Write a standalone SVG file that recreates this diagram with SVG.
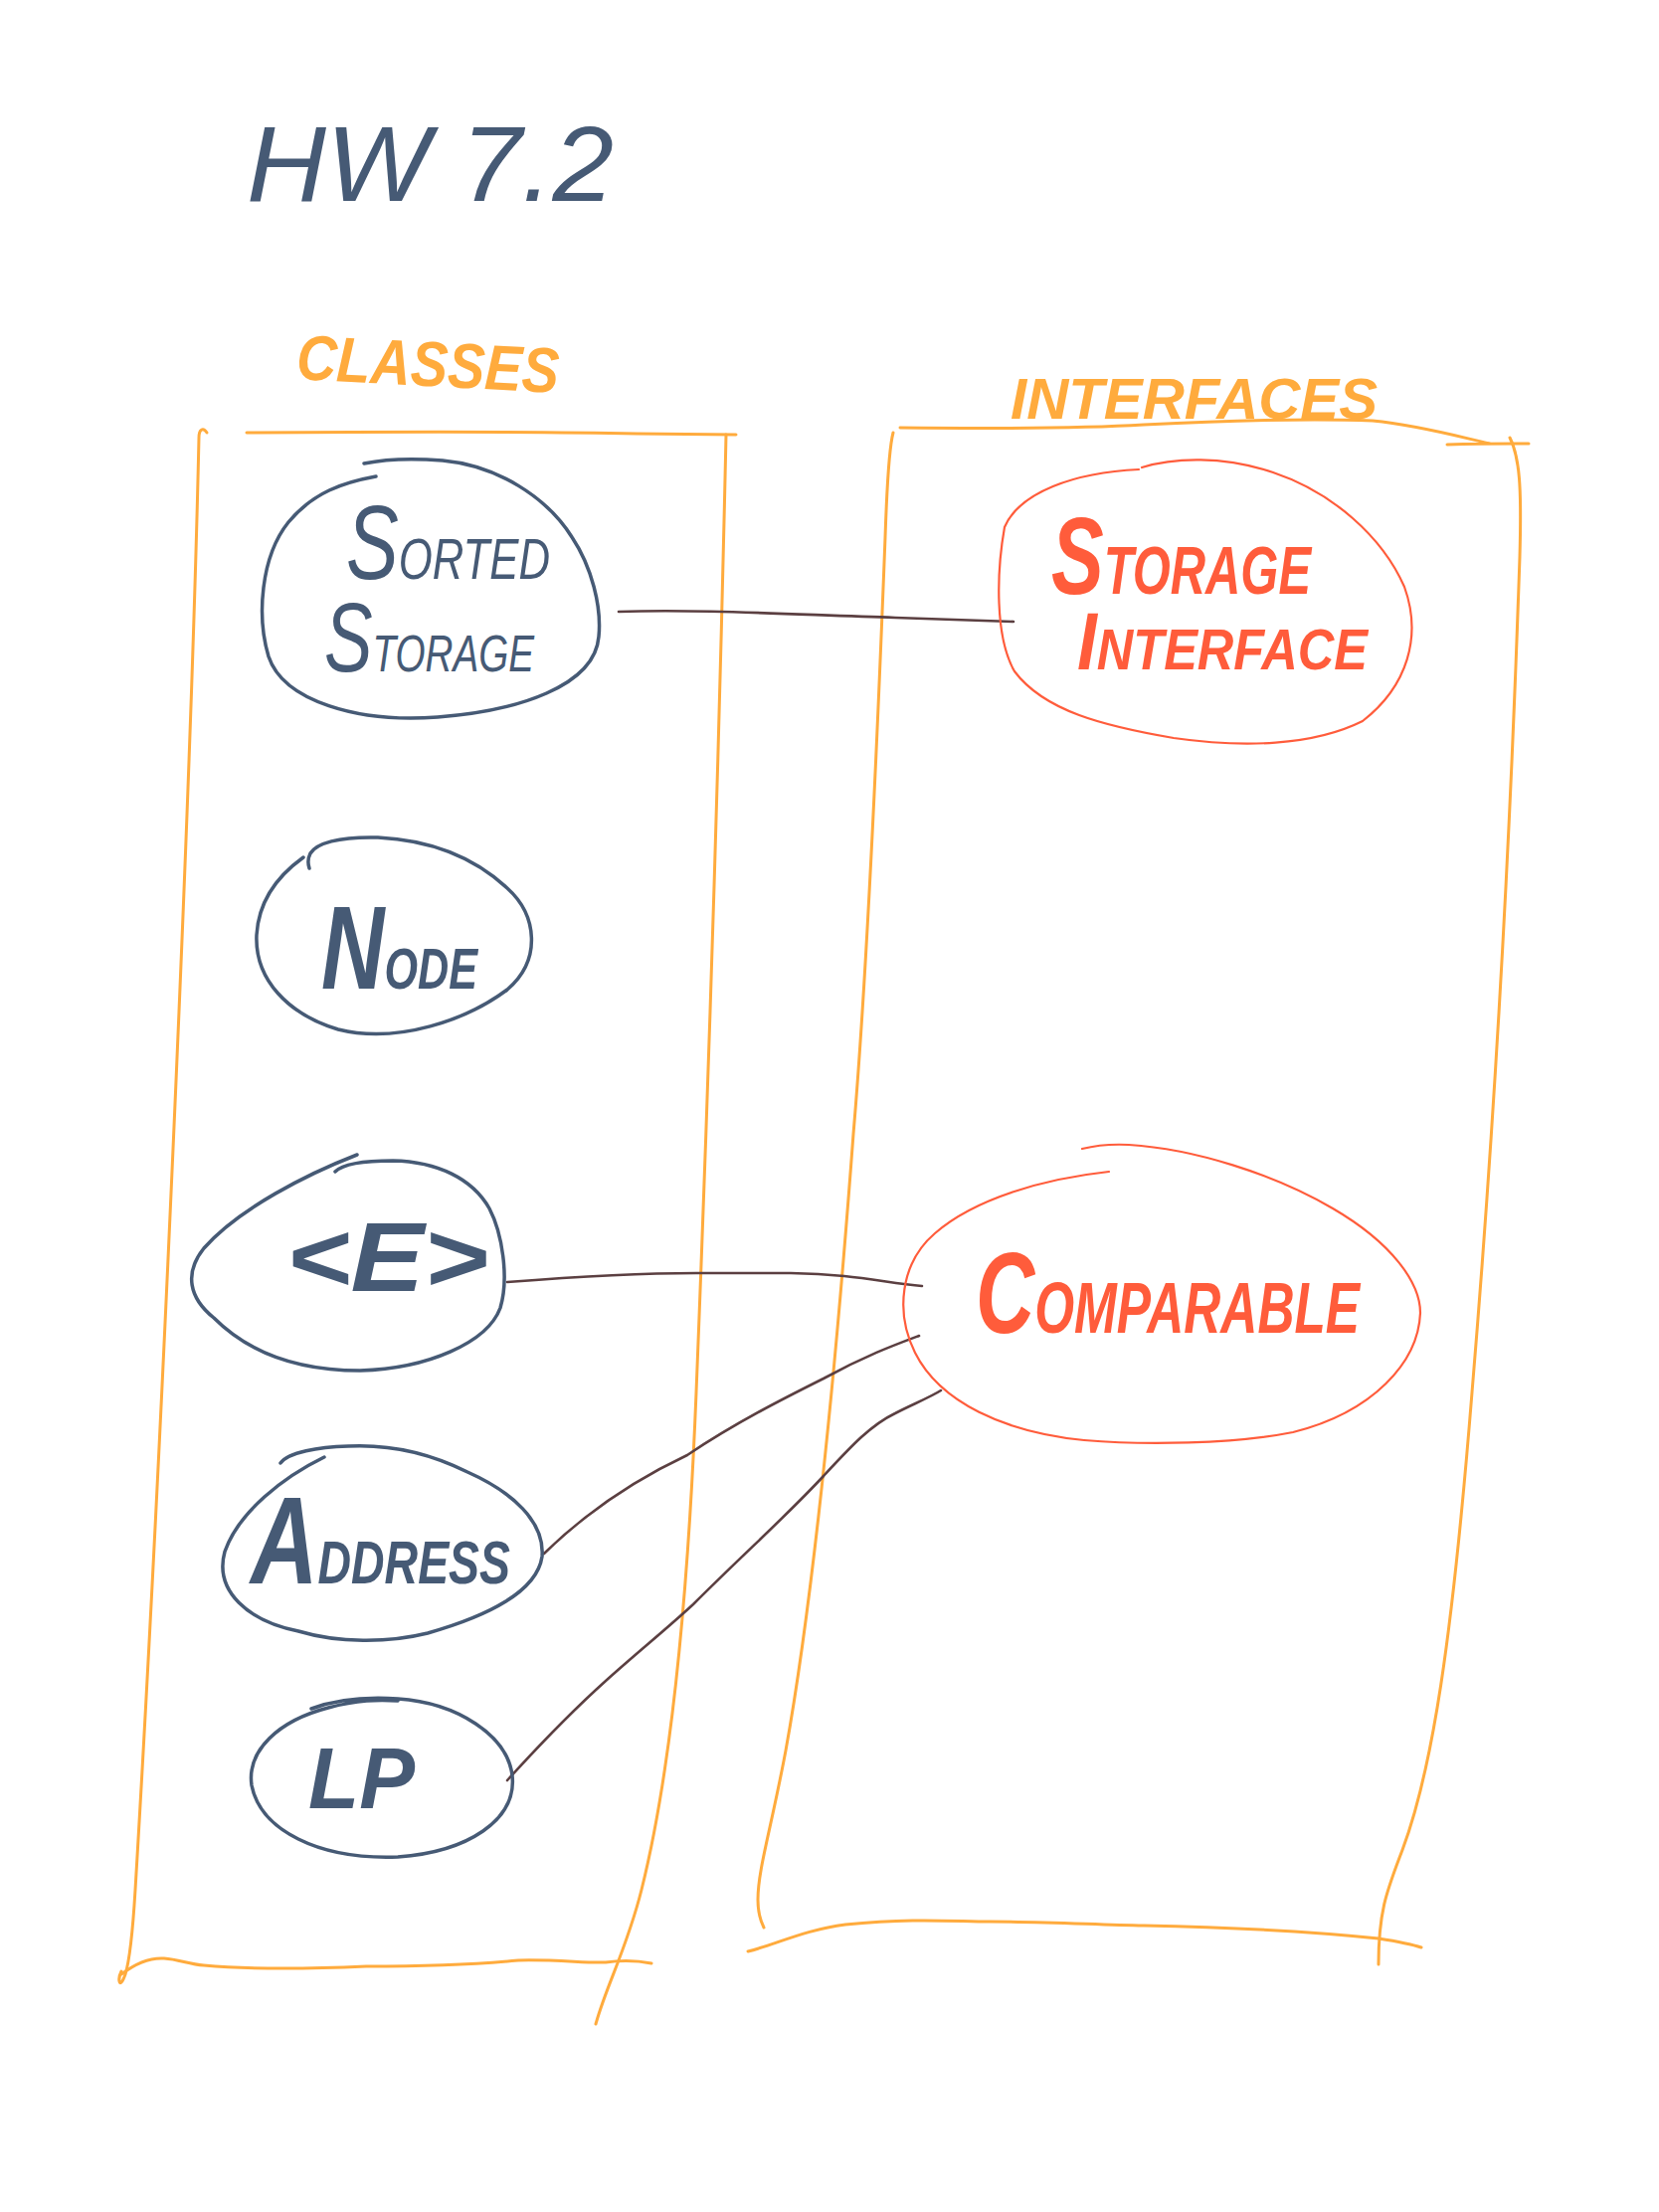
<svg xmlns="http://www.w3.org/2000/svg" width="1668" height="2224" viewBox="0 0 1668 2224">
<style>
.box{fill:none;stroke:#ffab3d;stroke-width:3;stroke-linecap:round;stroke-linejoin:round}
.cls{fill:none;stroke:#465a75;stroke-width:3.5;stroke-linecap:round}
.ifc{fill:none;stroke:#ff5c3b;stroke-width:2.2;stroke-linecap:round}
.con{fill:none;stroke:#5b3f41;stroke-width:2.6;stroke-linecap:round}
.t{font-family:"Liberation Sans","DejaVu Sans",sans-serif;font-style:italic}
.blue{fill:#465a75}
.red{fill:#ff5c3b;font-weight:bold}
.org{fill:#ffab3d;font-weight:bold}
</style>
<rect width="1668" height="2224" fill="#ffffff"/>
<text class="t blue" x="248" y="202" font-size="108" textLength="369" lengthAdjust="spacingAndGlyphs">HW 7.2</text>
<g id="frames">
<text class="t org" x="298" y="388" font-size="64" textLength="264" lengthAdjust="spacingAndGlyphs" transform="rotate(3 430 370)">CLASSES</text>
<text class="t org" x="1016" y="421" font-size="58" textLength="369" lengthAdjust="spacingAndGlyphs">INTERFACES</text>
<path class="box" d="M248,435 C400,434 560,434 640,436 L740,437"/>
<path class="box" d="M200,440 C200,432 204,429 208,435 M200,440 C192,800 160,1500 136,1900 C133,1950 130,1972 126,1985 C120,2002 118,1990 122,1982"/>
<path class="box" d="M122,1985 C135,1975 150,1968 165,1969 C180,1970 190,1975 205,1976 C250,1980 300,1980 368,1977 C430,1977 480,1975 521,1971 C560,1970 590,1974 609,1973 C630,1970 645,1972 655,1974"/>
<path class="box" d="M730,437 C722,800 712,1100 700,1400 C690,1650 670,1800 645,1900 C630,1960 610,1995 599,2035"/>
<path class="box" d="M905,430 C1000,431 1100,430 1150,427 C1250,422 1330,421 1380,423 C1430,428 1470,440 1498,446 M1455,447 C1490,446 1515,446 1537,446"/>
<path class="box" d="M898,435 C894,450 892,480 890,540 C880,800 870,1000 858,1140 C835,1450 810,1650 790,1760 C775,1840 762,1880 762,1910 C762,1925 765,1932 768,1938"/>
<path class="box" d="M1518,440 C1528,460 1530,490 1528,560 C1520,800 1505,1100 1480,1400 C1460,1650 1440,1780 1410,1860 C1395,1900 1386,1920 1386,1975"/>
<path class="box" d="M752,1962 C780,1955 810,1940 850,1935 C920,1928 960,1932 995,1932 C1050,1932 1100,1935 1150,1936 C1250,1938 1330,1943 1386,1949 C1405,1952 1420,1955 1429,1958"/>
</g>
<g id="connectors">
<path class="con" d="M622,615 C700,612 800,618 900,621 L1019,625"/>
<path class="con" d="M510,1289 C600,1282 650,1280 700,1280 L795,1280 C860,1281 890,1290 927,1293"/>
<path class="con" d="M547,1562 C590,1520 640,1487 691,1463 C740,1430 790,1405 828,1386 C870,1363 900,1352 924,1343"/>
<path class="con" d="M510,1790 C530,1768 570,1725 609,1690 C640,1662 670,1638 697,1613 C750,1560 790,1525 828,1484 C855,1455 875,1433 900,1421 C915,1413 935,1405 946,1398"/>
</g>
<g id="sorted-storage">
<path class="cls" stroke-width="2.6" d="M366,466 C390,461 420,461 445,463 C500,468 550,500 575,540 C595,570 605,610 602,640 C598,690 520,715 440,721 C360,727 285,705 270,660 C258,620 262,560 290,525 C315,495 345,485 378,479"/>
<text class="t blue" x="348" y="582" textLength="205" lengthAdjust="spacingAndGlyphs"><tspan font-size="105">S</tspan><tspan font-size="58">ORTED</tspan></text>
<text class="t blue" x="326" y="675" textLength="211" lengthAdjust="spacingAndGlyphs"><tspan font-size="98">S</tspan><tspan font-size="52">TORAGE</tspan></text>
</g>
<g id="node">
<path class="cls" d="M305,862 C280,880 260,905 258,940 C256,985 290,1020 340,1035 C400,1050 470,1025 510,995 C545,965 540,920 510,893 C480,865 440,845 380,842 C340,841 318,848 312,858 C309,864 310,870 311,873"/>
<text class="t blue" x="323" y="994" font-weight="bold" textLength="157" lengthAdjust="spacingAndGlyphs"><tspan font-size="118">N</tspan><tspan font-size="58">ODE</tspan></text>
</g>
<g id="e">
<path class="cls" d="M359,1161 C310,1180 240,1215 205,1255 C185,1280 190,1305 215,1325 C250,1360 300,1378 362,1378 C430,1376 490,1350 503,1315 C512,1285 505,1240 492,1215 C475,1185 440,1168 395,1167 C365,1167 345,1170 337,1178"/>
<text class="t blue" x="288" y="1298" font-size="98" font-weight="bold" textLength="203" lengthAdjust="spacingAndGlyphs">&lt;E&gt;</text>
</g>
<g id="address">
<path class="cls" d="M326,1465 C285,1485 240,1520 226,1560 C215,1600 250,1630 300,1640 C340,1652 390,1652 430,1642 C490,1625 540,1600 545,1565 C548,1530 515,1500 470,1480 C430,1460 390,1452 350,1454 C320,1455 290,1460 282,1471"/>
<text class="t blue" x="252" y="1592" font-weight="bold" textLength="261" lengthAdjust="spacingAndGlyphs"><tspan font-size="125">A</tspan><tspan font-size="62">DDRESS</tspan></text>
</g>
<g id="lp">
<path class="cls" d="M313,1718 C340,1708 370,1706 400,1708 C460,1712 510,1745 515,1785 C520,1830 470,1862 400,1867 C320,1870 262,1840 253,1795 C248,1760 280,1730 330,1717 C360,1709 380,1709 400,1710"/>
<text class="t blue" x="310" y="1818" font-size="88" font-weight="bold" textLength="107" lengthAdjust="spacingAndGlyphs">LP</text>
</g>
<g id="storage-interface">
<path class="ifc" d="M1148,470 C1180,460 1230,458 1280,475 C1340,495 1390,540 1412,590 C1430,640 1415,690 1370,725 C1320,750 1250,752 1180,742 C1110,730 1050,715 1020,675 C1000,640 1002,575 1010,530 C1025,495 1080,475 1145,472"/>
<text class="t red" x="1057" y="597" textLength="261" lengthAdjust="spacingAndGlyphs"><tspan font-size="110">S</tspan><tspan font-size="68">TORAGE</tspan></text>
<text class="t red" x="1083" y="673" textLength="292" lengthAdjust="spacingAndGlyphs"><tspan font-size="82">I</tspan><tspan font-size="58">NTERFACE</tspan></text>
</g>
<g id="comparable">
<path class="ifc" d="M1088,1155 C1100,1152 1115,1150 1135,1151 C1200,1155 1280,1180 1340,1215 C1400,1250 1428,1290 1428,1320 C1426,1370 1380,1420 1300,1440 C1240,1452 1150,1453 1090,1448 C1010,1440 945,1410 920,1360 C900,1320 905,1270 940,1240 C980,1205 1050,1185 1115,1178"/>
<text class="t red" x="981" y="1340" textLength="386" lengthAdjust="spacingAndGlyphs"><tspan font-size="115">C</tspan><tspan font-size="72">OMPARABLE</tspan></text>
</g>
</svg>
